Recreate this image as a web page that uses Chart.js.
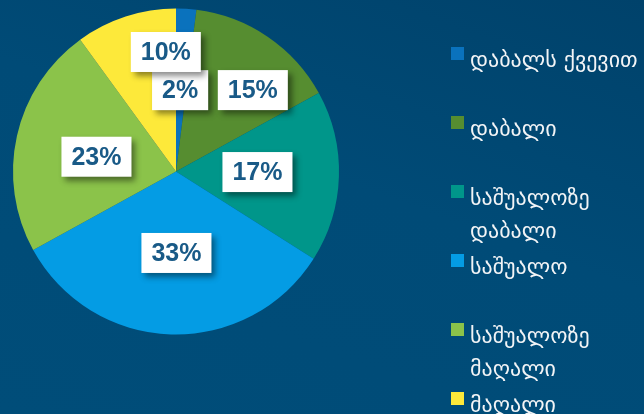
<!DOCTYPE html>
<html>
<head>
<meta charset="utf-8">
<script src="https://cdn.jsdelivr.net/npm/chart.js@4"></script>
<style>
  html, body { margin: 0; padding: 0; }
  body {
    width: 644px;
    height: 414px;
    overflow: hidden;
    background: linear-gradient(200deg, #00426b 0%, #004b77 45%, #004d79 100%);
    position: relative;
  }
  #wrap { position: absolute; left: 0; top: 0; width: 644px; height: 414px; }
  #legend {
    position: absolute;
    left: 451px;
    top: 47px;
    margin: 0;
    padding: 0;
    list-style: none;
    font-family: "DejaVu Sans", sans-serif;
    font-size: 22px;
    color: #f2f4f6;
    white-space: nowrap;
  }
  #legend li { height: 69px; position: relative; padding-left: 19px; line-height: 33px; }
  #legend li span.box {
    position: absolute; left: 0; top: 0; width: 13px; height: 13px;
  }
  #legend li div { position: relative; top: -4px; }
</style>
</head>
<body>
<div id="wrap"><canvas id="myChart" width="644" height="414"></canvas></div>
<ul id="legend"></ul>
<script>
const categories = [
  'დაბალს ქვევით',
  'დაბალი',
  'საშუალოზე დაბალი',
  'საშუალო',
  'საშუალოზე მაღალი',
  'მაღალი',
];
const legendLines = [
  ['დაბალს ქვევით'],
  ['დაბალი'],
  ['საშუალოზე', 'დაბალი'],
  ['საშუალო'],
  ['საშუალოზე', 'მაღალი'],
  ['მაღალი'],
];
const shares = [2, 15, 17, 33, 23, 10];
const colors = ['#0a72bd', '#568d30', '#00968a', '#049ce4', '#8bc34a', '#fde93a'];

// small nudges so the crowded labels at the top don't collide
const labelNudge = [[-1, 0], [31, -14], [0, -2], [3, 0], [0, 3], [15, -42]];

const boxLabels = {
  id: 'boxLabels',
  afterDatasetsDraw(chart) {
    const ctx = chart.ctx;
    const meta = chart.getDatasetMeta(0);
    ctx.save();
    ctx.font = 'bold 25px "Liberation Sans", Arial, sans-serif';
    ctx.textAlign = 'center';
    ctx.textBaseline = 'middle';
    meta.data.forEach((arc, i) => {
      const p = arc.getProps(['x', 'y', 'startAngle', 'endAngle', 'outerRadius'], true);
      const mid = (p.startAngle + p.endAngle) / 2;
      const r = p.outerRadius * 0.5;
      const cx = p.x + Math.cos(mid) * r + labelNudge[i][0];
      const cy = p.y + Math.sin(mid) * r + labelNudge[i][1];
      const text = shares[i] + '%';
      const w = ctx.measureText(text).width + 20;
      const h = 40;

      ctx.shadowColor = 'rgba(0, 0, 0, 0.45)';
      ctx.shadowBlur = 6;
      ctx.shadowOffsetX = 4;
      ctx.shadowOffsetY = 4;
      ctx.fillStyle = '#ffffff';
      ctx.fillRect(cx - w / 2, cy - h / 2, w, h);

      ctx.shadowColor = 'transparent';
      ctx.fillStyle = '#195a87';
      ctx.fillText(text, cx, cy + 1);
    });
    ctx.restore();
  },
};

const ctx = document.getElementById('myChart').getContext('2d');
const myChart = new Chart(ctx, {
  type: 'pie',
  data: {
    labels: categories,
    datasets: [
      {
        data: shares,
        backgroundColor: colors,
        borderWidth: 0,
      },
    ],
  },
  options: {
    responsive: false,
    animation: false,
    layout: { padding: { left: 13, right: 305, top: 8.5, bottom: 79.5 } },
    plugins: {
      legend: { display: false },
      tooltip: { enabled: false },
    },
  },
  plugins: [boxLabels],
});

const legend = document.getElementById('legend');
categories.forEach((name, i) => {
  const li = document.createElement('li');
  li.title = name;
  li.innerHTML =
    `<span class="box" style="background:${colors[i]}"></span>` +
    legendLines[i].map((t) => `<div>${t}</div>`).join('');
  legend.appendChild(li);
});
</script>
</body>
</html>
